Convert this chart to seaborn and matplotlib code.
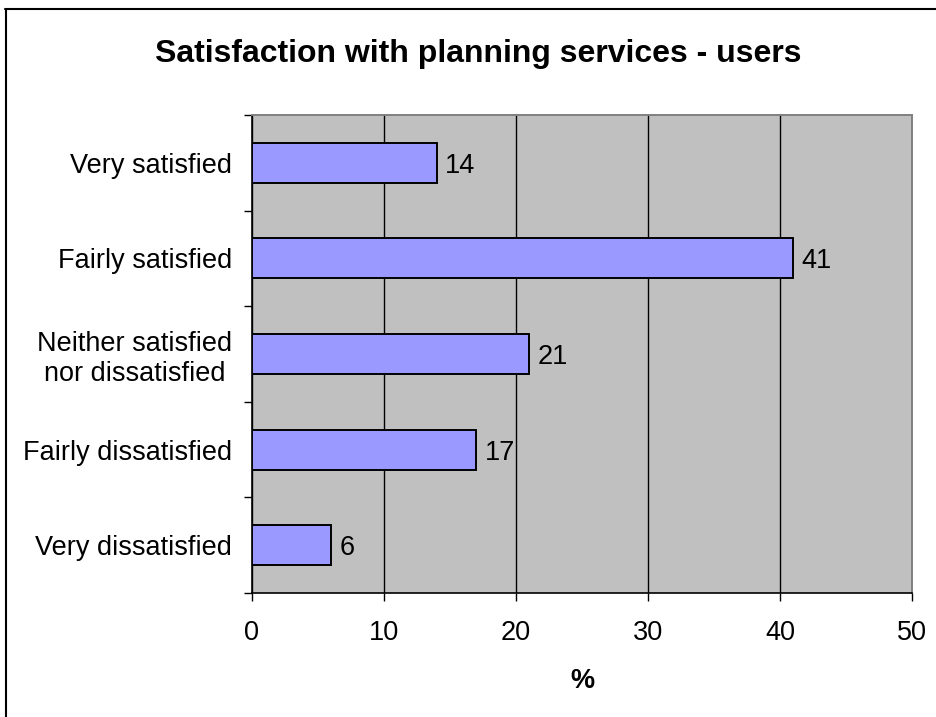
import matplotlib
matplotlib.use("Agg")
import matplotlib.pyplot as plt
from matplotlib.lines import Line2D
from matplotlib.ticker import FixedLocator
import seaborn as sns
import pandas as pd

categories = ["Very satisfied", "Fairly satisfied", "Neither satisfied\nnor dissatisfied",
              "Fairly dissatisfied", "Very dissatisfied"]
values = [14, 41, 21, 17, 6]
x_ticks = [0, 10, 20, 30, 40, 50]
title = "Satisfaction with planning services - users"
x_label = "%"

sns.set_style("white")
plt.rcParams["font.family"] = ["Liberation Sans", "DejaVu Sans"]
plt.rcParams["text.color"] = "black"
plt.rcParams["axes.labelcolor"] = "black"
plt.rcParams["xtick.color"] = "black"
plt.rcParams["ytick.color"] = "black"

df = pd.DataFrame({"category": categories, "value": values})

W, H = 937, 717
fig = plt.figure(figsize=(W / 100, H / 100), dpi=100)
ax = fig.add_axes([252 / W, 1 - 593 / H, (912 - 252) / W, (593 - 115) / H])

sns.barplot(data=df, x="value", y="category", orient="h", color="#9999FF",
            saturation=1, edgecolor="black", linewidth=1.4, width=0.42, ax=ax, zorder=3)

ax.set_facecolor("#C0C0C0")
ax.set_xlim(0, 50)
ax.set_ylim(len(categories) - 0.5, -0.5)
ax.set_xticks(x_ticks)
ax.xaxis.grid(True, color="black", linewidth=1.0, zorder=1)
ax.set_axisbelow(True)

# category labels without ticks; short ticks mark the boundaries between categories
ax.set_yticks(range(len(categories)))
ax.set_yticklabels(categories, multialignment="center")
ax.yaxis.set_minor_locator(FixedLocator([i - 0.5 for i in range(len(categories) + 1)]))
ax.tick_params(axis="y", which="major", length=0, pad=14.4, labelsize=19.5)
ax.tick_params(axis="y", which="minor", length=5.8, width=1, direction="out", left=True)
ax.tick_params(axis="x", which="major", length=5.8, width=1, direction="out",
               bottom=True, pad=13.5, labelsize=19.5)

for side in ["left", "bottom"]:
    ax.spines[side].set_color("black")
    ax.spines[side].set_linewidth(1.2)
for side in ["top", "right"]:
    ax.spines[side].set_color("#808080")
    ax.spines[side].set_linewidth(1.4)

for container in ax.containers:
    labels = ax.bar_label(container, labels=[str(v) for v in values], padding=6, fontsize=19.5)
    for lab in labels:
        lab.set_verticalalignment("center_baseline")

ax.set_xlabel(x_label, fontsize=19.5, fontweight="bold", labelpad=16)
ax.set_ylabel("")
fig.suptitle(title, fontsize=23, fontweight="bold", x=478 / W, y=1 - 39 / H, va="top")

# chart frame (left and top edges fall inside the image)
fig.lines.append(Line2D([5.7 / W, 5.7 / W], [0, 1 - 9 / H], transform=fig.transFigure,
                        color="black", linewidth=1.5))
fig.lines.append(Line2D([5 / W, 1], [1 - 9 / H, 1 - 9 / H], transform=fig.transFigure,
                        color="black", linewidth=1.5))

fig.savefig("out.png", dpi=100, facecolor="white")
